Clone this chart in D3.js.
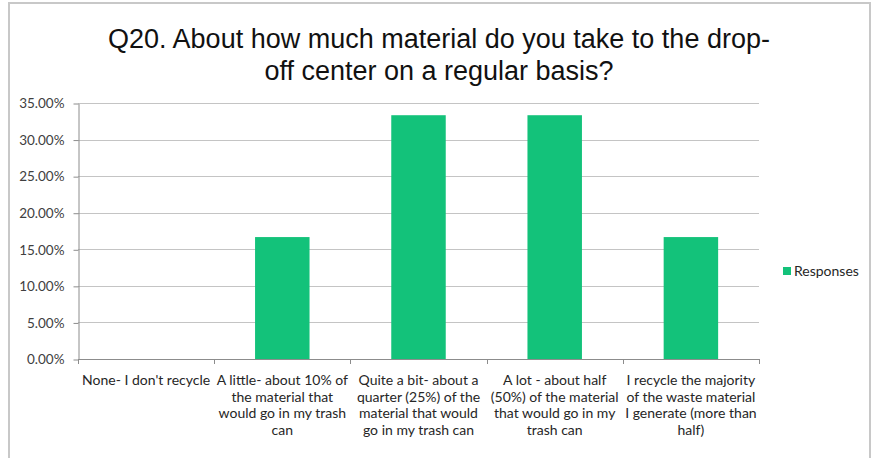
<!DOCTYPE html>
<html>
<head>
<meta charset="utf-8">
<script src="https://cdn.jsdelivr.net/npm/d3@7"></script>
<style>
  body { margin: 0; background: #fff; }
  svg { display: block; }
  .axis path, .axis line { stroke: #8c8c8c; }
  .y-axis text { font-family: Lato, "Open Sans", sans-serif; font-size: 13.5px; fill: #404040; }
  .x-label { font-family: Lato, "Open Sans", sans-serif; font-size: 14px; fill: #262626; }
</style>
</head>
<body>
<svg id="chart"></svg>
<script>
  const categories = [
    ["None- I don't recycle"],
    ["A little- about 10% of", "the material that", "would go in my trash", "can"],
    ["Quite a bit- about a", "quarter (25%) of the", "material that would", "go in my trash can"],
    ["A lot - about half", "(50%) of the material", "that would go in my", "trash can"],
    ["I recycle the majority", "of the waste material", "I generate (more than", "half)"]
  ];
  const responses = [0, 16.67, 33.33, 33.33, 16.67];
  const yTicks = [0, 5, 10, 15, 20, 25, 30, 35];
  const titleLines = ["Q20. About how much material do you take to the drop-", "off center on a regular basis?"];
  const seriesName = "Responses";

  const width = 873;
  const height = 458;
  const margin = { top: 103, right: 114, bottom: 99, left: 78 };
  const barColor = "#13c27a";

  const chart = d3.select("#chart")
    .attr("width", width)
    .attr("height", height);

  // outer frame of the chart object
  chart.append("rect")
    .attr("x", 9).attr("y", 3)
    .attr("width", width - 12).attr("height", height - 2)
    .attr("fill", "#fff")
    .attr("stroke", "#c8c8c8")
    .attr("stroke-width", 2);

  chart.selectAll(".title")
    .data(titleLines)
    .enter()
    .append("text")
    .attr("class", "title")
    .attr("x", 439)
    .attr("y", (d, i) => 48 + i * 32)
    .attr("text-anchor", "middle")
    .attr("font-family", "'Liberation Sans', Arial, sans-serif")
    .attr("font-size", 27)
    .attr("fill", "#111")
    .text((d) => d);

  const xScale = d3.scaleBand()
    .domain(d3.range(categories.length))
    .range([margin.left, width - margin.right])
    .paddingInner(0.6)
    .paddingOuter(0.3);

  const yScale = d3.scaleLinear()
    .domain([0, 35])
    .range([height - margin.bottom, margin.top]);

  // gridlines
  chart.append("g")
    .selectAll("line")
    .data(yTicks)
    .enter()
    .append("line")
    .attr("x1", margin.left)
    .attr("x2", width - margin.right)
    .attr("y1", (d) => Math.round(yScale(d)) + 0.5)
    .attr("y2", (d) => Math.round(yScale(d)) + 0.5)
    .attr("stroke", "#c4c4c4");

  chart.append("g")
    .selectAll("rect")
    .data(responses)
    .enter()
    .append("rect")
    .attr("x", (d, i) => xScale(i))
    .attr("y", (d) => yScale(d))
    .attr("width", xScale.bandwidth())
    .attr("height", (d) => yScale(0) - yScale(d))
    .attr("fill", barColor);

  const yAxis = chart.append("g")
    .attr("class", "axis y-axis")
    .attr("transform", `translate(${margin.left + 0.5}, 0.5)`)
    .call(d3.axisLeft(yScale).tickValues(yTicks).tickSize(5).tickSizeOuter(0).tickPadding(9)
      .tickFormat((d) => d.toFixed(2) + "%"));

  // x axis with tick marks between categories
  const step = xScale.step();
  const x0 = margin.left;
  const xAxis = chart.append("g").attr("class", "axis");
  xAxis.append("line")
    .attr("x1", x0).attr("x2", width - margin.right)
    .attr("y1", Math.round(yScale(0)) + 0.5).attr("y2", Math.round(yScale(0)) + 0.5);
  xAxis.selectAll(".tick")
    .data(d3.range(categories.length + 1))
    .enter()
    .append("line")
    .attr("x1", (d) => Math.round(x0 + d * step) + 0.5)
    .attr("x2", (d) => Math.round(x0 + d * step) + 0.5)
    .attr("y1", Math.round(yScale(0)))
    .attr("y2", Math.round(yScale(0)) + 5);

  const labels = chart.append("g")
    .selectAll("text")
    .data(categories)
    .enter()
    .append("text")
    .attr("class", "x-label")
    .attr("text-anchor", "middle")
    .attr("x", (d, i) => xScale(i) + xScale.bandwidth() / 2)
    .attr("y", 385);
  labels.selectAll("tspan")
    .data((d) => d)
    .enter()
    .append("tspan")
    .attr("x", function () { return d3.select(this.parentNode).attr("x"); })
    .attr("dy", (d, i) => (i === 0 ? 0 : 16.7))
    .text((d) => d);

  // legend
  const legend = chart.append("g").attr("transform", "translate(783, 271)");
  legend.append("rect")
    .attr("x", 0).attr("y", -4)
    .attr("width", 8).attr("height", 8)
    .attr("fill", barColor);
  legend.append("text")
    .attr("x", 11).attr("y", 5)
    .attr("class", "x-label")
    .text(seriesName);
</script>
</body>
</html>
